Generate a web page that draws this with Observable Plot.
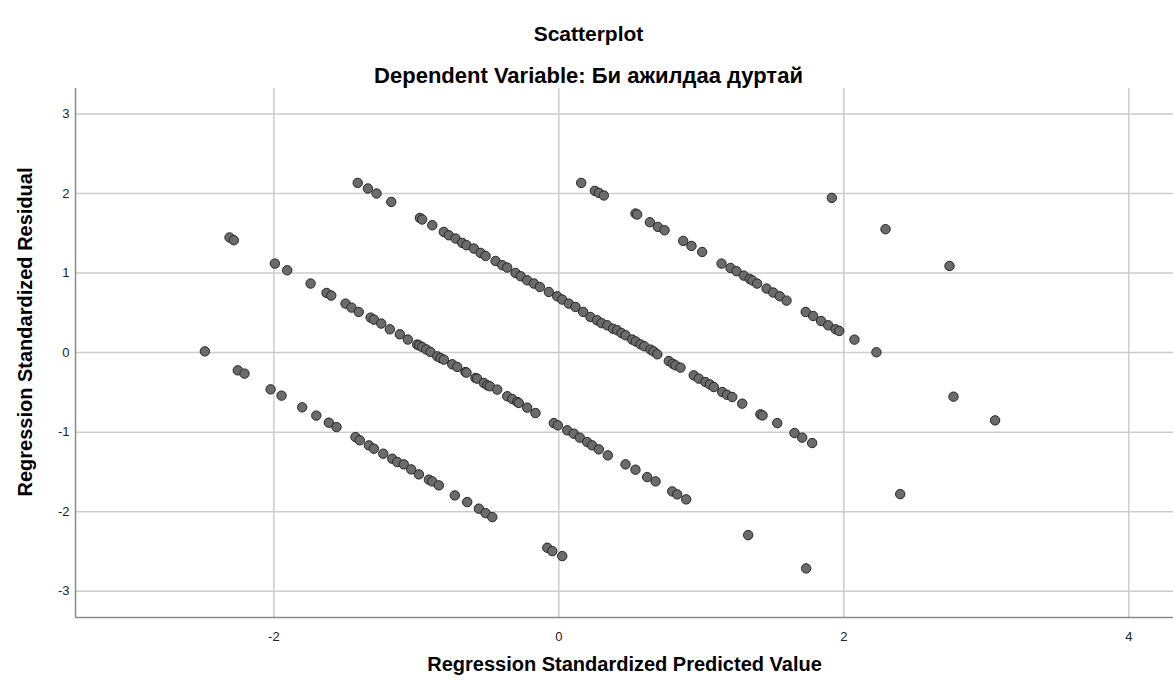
<!DOCTYPE html>
<html><head><meta charset="utf-8">
<script src="https://cdn.jsdelivr.net/npm/d3@7"></script>
<script src="https://cdn.jsdelivr.net/npm/@observablehq/plot@0.6"></script>
<style>html,body{margin:0;padding:0;background:#fff}</style>
</head><body><div id="chart"></div>
<script>
const title = "Scatterplot";
const subtitle = "Dependent Variable: Би ажилдаа дуртай";
const xLabel = "Regression Standardized Predicted Value";
const yLabel = "Regression Standardized Residual";
const xTicks = [-2, 0, 2, 4];
const yTicks = [-3, -2, -1, 0, 1, 2, 3];
const xDomain = [-3.392, 4.314];
const yDomain = [-3.33, 3.32];

// [standardized predicted value, standardized residual]
const groupA = [[-2.484,0.016],[-2.253,-0.223],[-2.206,-0.264],[-2.023,-0.462],[-1.946,-0.541],[-1.801,-0.688],[-1.702,-0.792],[-1.614,-0.881],[-1.560,-0.936],[-1.427,-1.062],[-1.397,-1.103],[-1.333,-1.166],[-1.298,-1.208],[-1.232,-1.271],[-1.169,-1.334],[-1.134,-1.376],[-1.088,-1.405],[-1.036,-1.468],[-0.982,-1.531],[-0.912,-1.597],[-0.888,-1.619],[-0.842,-1.669],[-0.730,-1.795],[-0.643,-1.879],[-0.561,-1.962],[-0.514,-2.018],[-0.467,-2.068],[-0.081,-2.453],[-0.046,-2.496],[0.024,-2.558]];
const groupB = [[-2.311,1.447],[-2.281,1.413],[-1.993,1.119],[-1.906,1.035],[-1.742,0.868],[-1.630,0.750],[-1.597,0.717],[-1.497,0.616],[-1.455,0.566],[-1.404,0.511],[-1.321,0.440],[-1.298,0.415],[-1.246,0.365],[-1.186,0.293],[-1.116,0.230],[-1.060,0.164],[-0.994,0.101],[-0.980,0.090],[-0.959,0.070],[-0.930,0.040],[-0.901,0.008],[-0.853,-0.047],[-0.830,-0.068],[-0.807,-0.088],[-0.748,-0.147],[-0.713,-0.181],[-0.655,-0.244],[-0.648,-0.252],[-0.585,-0.319],[-0.573,-0.327],[-0.526,-0.382],[-0.502,-0.411],[-0.484,-0.423],[-0.432,-0.465],[-0.362,-0.549],[-0.327,-0.583],[-0.292,-0.621],[-0.281,-0.633],[-0.222,-0.692],[-0.164,-0.760],[-0.035,-0.886],[-0.007,-0.915],[0.059,-0.977],[0.105,-1.019],[0.147,-1.069],[0.199,-1.125],[0.234,-1.166],[0.281,-1.216],[0.344,-1.292],[0.468,-1.405],[0.538,-1.472],[0.620,-1.565],[0.679,-1.619],[0.796,-1.745],[0.831,-1.782],[0.894,-1.845],[1.329,-2.294],[1.736,-2.713]];
const groupC = [[-1.411,2.133],[-1.340,2.063],[-1.279,2.000],[-1.176,1.894],[-0.975,1.693],[-0.959,1.673],[-0.888,1.601],[-0.807,1.517],[-0.772,1.475],[-0.725,1.434],[-0.678,1.379],[-0.648,1.350],[-0.596,1.308],[-0.549,1.253],[-0.514,1.215],[-0.444,1.152],[-0.397,1.098],[-0.362,1.069],[-0.304,1.001],[-0.268,0.960],[-0.222,0.909],[-0.175,0.868],[-0.133,0.825],[-0.070,0.762],[-0.011,0.708],[0.024,0.667],[0.070,0.616],[0.117,0.574],[0.171,0.511],[0.222,0.448],[0.269,0.406],[0.300,0.370],[0.340,0.343],[0.380,0.300],[0.410,0.281],[0.440,0.245],[0.468,0.218],[0.515,0.164],[0.540,0.140],[0.573,0.104],[0.600,0.080],[0.644,0.038],[0.665,0.015],[0.691,-0.021],[0.772,-0.106],[0.800,-0.140],[0.819,-0.160],[0.854,-0.189],[0.947,-0.286],[0.982,-0.327],[1.029,-0.370],[1.060,-0.400],[1.088,-0.433],[1.147,-0.496],[1.180,-0.530],[1.217,-0.558],[1.287,-0.642],[1.415,-0.776],[1.430,-0.790],[1.533,-0.886],[1.654,-1.011],[1.708,-1.069],[1.778,-1.137],[2.396,-1.779]];
const groupD = [[0.157,2.133],[0.253,2.033],[0.281,2.008],[0.316,1.975],[0.538,1.748],[0.550,1.736],[0.639,1.639],[0.695,1.580],[0.742,1.538],[0.873,1.404],[0.931,1.341],[1.006,1.265],[1.142,1.119],[1.205,1.064],[1.247,1.023],[1.298,0.968],[1.340,0.926],[1.359,0.906],[1.392,0.868],[1.458,0.805],[1.505,0.755],[1.551,0.708],[1.598,0.654],[1.733,0.511],[1.785,0.460],[1.841,0.397],[1.891,0.343],[1.942,0.293],[1.968,0.272],[2.075,0.163],[2.229,0.004],[2.770,-0.554],[3.062,-0.852]];
const groupE = [[1.916,1.945],[2.293,1.551],[2.742,1.089]];

const points = [...groupA, ...groupB, ...groupC, ...groupD, ...groupE].map(([x, y]) => ({x, y}));

const font = "'Liberation Sans', Arial, sans-serif";
const chart = Plot.plot({
  width: 1173,
  height: 686,
  marginLeft: 75,
  marginRight: 0,
  marginTop: 88,
  marginBottom: 69,
  style: {fontFamily: font, background: "#fff", overflow: "visible", color: "#000"},
  x: {domain: xDomain, axis: null},
  y: {domain: yDomain, axis: null},
  marks: [
    Plot.ruleY(yTicks, {stroke: "#cdcdcd", strokeWidth: 1.5}),
    Plot.ruleX(xTicks, {stroke: "#cdcdcd", strokeWidth: 1.5}),
    Plot.dot(points, {x: "x", y: "y", r: 4.7, fill: "#6b6b6b", stroke: "#262626", strokeWidth: 1}),
    Plot.ruleX([xDomain[0]], {stroke: "#8a8a8a", strokeWidth: 1.5}),
    Plot.ruleY([yDomain[0]], {stroke: "#8a8a8a", strokeWidth: 1.5}),
    Plot.text(yTicks, {y: d => d, text: d => String(d), frameAnchor: "left", dx: -6, textAnchor: "end", fontSize: 13, fill: "#222"}),
    Plot.text(xTicks, {x: d => d, text: d => String(d), frameAnchor: "bottom", dy: 23, textAnchor: "middle", fontSize: 13, fill: "#222"}),
    Plot.text([title], {text: d => d, frameAnchor: "top", dx: -36, dy: -62, textAnchor: "middle", fontSize: 21, fontWeight: "bold", fill: "#000"}),
    Plot.text([subtitle], {text: d => d, frameAnchor: "top", dx: -36, dy: -21, textAnchor: "middle", fontSize: 22, fontWeight: "bold", fill: "#000"}),
    Plot.text([xLabel], {text: d => d, frameAnchor: "bottom", dy: 53, textAnchor: "middle", fontSize: 20, fontWeight: "bold", fill: "#000"}),
    Plot.text([yLabel], {text: d => d, frameAnchor: "left", rotate: -90, dx: -50, dy: -21, textAnchor: "middle", fontSize: 20, fontWeight: "bold", fill: "#000"})
  ]
});
document.getElementById("chart").appendChild(chart);
</script>
</body></html>
